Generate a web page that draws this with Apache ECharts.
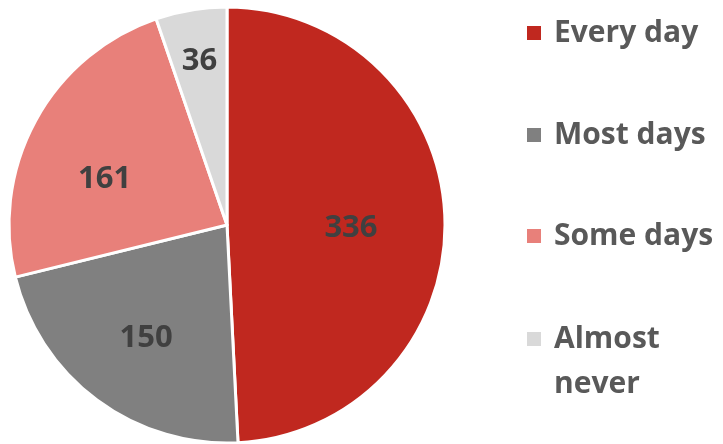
<!DOCTYPE html>
<html>
<head>
<meta charset="utf-8">
<script src="https://cdn.jsdelivr.net/npm/echarts@6/dist/echarts.min.js"></script>
<style>
  html, body { margin: 0; padding: 0; background: #ffffff; }
  #chart { width: 723px; height: 444px; }
</style>
</head>
<body>
<div id="chart"></div>
<script>
// How often respondents do it
const categories = ['Every day', 'Most days', 'Some days', 'Almost never'];
const counts = [336, 150, 161, 36];
const sliceColors = ['#C0281F', '#808080', '#E8807A', '#D9D9D9'];
// Legend text (the last one wraps onto two lines; the leading blank line
// keeps its first line level with the marker)
const legendText = ['Every day', 'Most days', 'Some days', '\nAlmost\nnever'];

// Nudges for the value labels inside each slice
const labelOffsets = [[12, 6], [-14, 23], [-24, 8], [-9, -53]];
// Vertical centre of each legend marker
const legendRows = [33, 135, 236, 339];

const FONT = '"Open Sans"';
const LINE = 45;

const chart = echarts.init(document.getElementById('chart'), null, { renderer: 'canvas' });

const legends = categories.map((name, i) => {
  const lines = legendText[i].split('\n').length;
  return {
    orient: 'vertical',
    left: 525,
    top: legendRows[i] - lines * LINE / 2,
    padding: 0,
    itemWidth: 16,
    itemHeight: 16,
    icon: 'rect',
    selectedMode: false,
    data: [name],
    formatter: () => legendText[i],
    textStyle: {
      fontFamily: FONT,
      fontWeight: 'bold',
      fontSize: 30,
      color: '#595959',
      lineHeight: LINE,
      padding: [0, 0, 0, 7]
    }
  };
});

chart.setOption({
  animation: false,
  legend: legends,
  series: [{
    type: 'pie',
    center: [227, 225],
    radius: [0, 218],
    startAngle: 90,
    clockwise: true,
    avoidLabelOverlap: false,
    itemStyle: { borderColor: '#ffffff', borderWidth: 3 },
    label: {
      show: true,
      position: 'inside',
      formatter: '{c}',
      fontFamily: FONT,
      fontWeight: 'bold',
      fontSize: 31,
      color: '#404040'
    },
    labelLine: { show: false },
    emphasis: { disabled: true },
    data: categories.map((name, i) => ({
      name,
      value: counts[i],
      itemStyle: { color: sliceColors[i] },
      label: { offset: labelOffsets[i] }
    }))
  }]
});
</script>
</body>
</html>
